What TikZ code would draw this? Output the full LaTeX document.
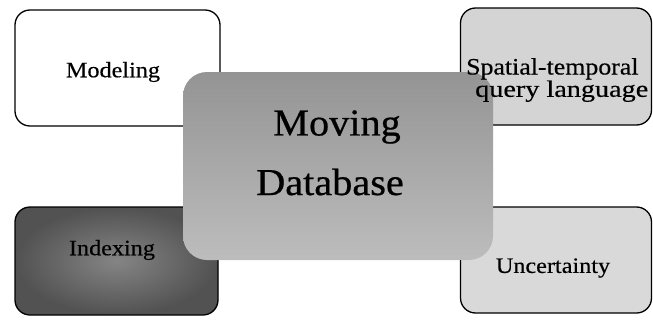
\documentclass[tikz,border=0pt]{standalone}
\usepackage{fontspec}
\setmainfont{Liberation Serif}[FakeStretch=1.1,FakeBold=0.4]
\newfontfamily\bigserif{Liberation Serif}[FakeStretch=1.06,FakeBold=0.6]
\newfontfamily\wideserif{Liberation Serif}[FakeStretch=1.2,FakeBold=0.4]
\begin{document}
\begin{tikzpicture}[x=1pt,y=-1pt,
  sidebox/.style={draw=black, line width=1.3pt, rounded corners=15pt, inner sep=0pt},
  sidetext/.style={font=\fontsize{22}{22}\selectfont, text=black, inner sep=0pt, align=center},
  maintext/.style={font=\bigserif\fontsize{38}{40}\selectfont, text=black, inner sep=0pt}]
\useasboundingbox (0,0) rectangle (653,324);
% corner boxes
\node[sidebox, fill=white, minimum width=205pt, minimum height=116pt] (modbox) at (117.5,68) {};
\node[sidebox, fill=black!17, minimum width=191pt, minimum height=117pt] (spbox) at (556,66.5) {};
\node[sidebox, inner color=black!48, outer color=black!68, minimum width=203pt, minimum height=108pt] (idxbox) at (116.5,261) {};
\node[sidebox, fill=black!15, minimum width=191pt, minimum height=106pt] (unbox) at (556,260) {};
% central box
\node[rounded corners=24pt, top color=black!42, bottom color=black!26, minimum width=310pt, minimum height=188pt, inner sep=0pt] (mdb) at (338,166) {};
% texts
\node[sidetext, align=left, font=\fontsize{23.5}{19}\selectfont, anchor=north west] (sptxt) at (466,58) {Spatial-temporal\\\hspace*{9pt}{\wideserif query language}};
\node[sidetext] (modtxt) at (113,72) {Modeling};
\node[sidetext] (idxtxt) at (112,250) {Indexing};
\node[sidetext] (untxt) at (553,268) {Uncertainty};
\node[maintext] (mvtxt) at (337,127) {Moving};
\node[maintext] (dbtxt) at (330,182) {Database};
\end{tikzpicture}
\end{document}
